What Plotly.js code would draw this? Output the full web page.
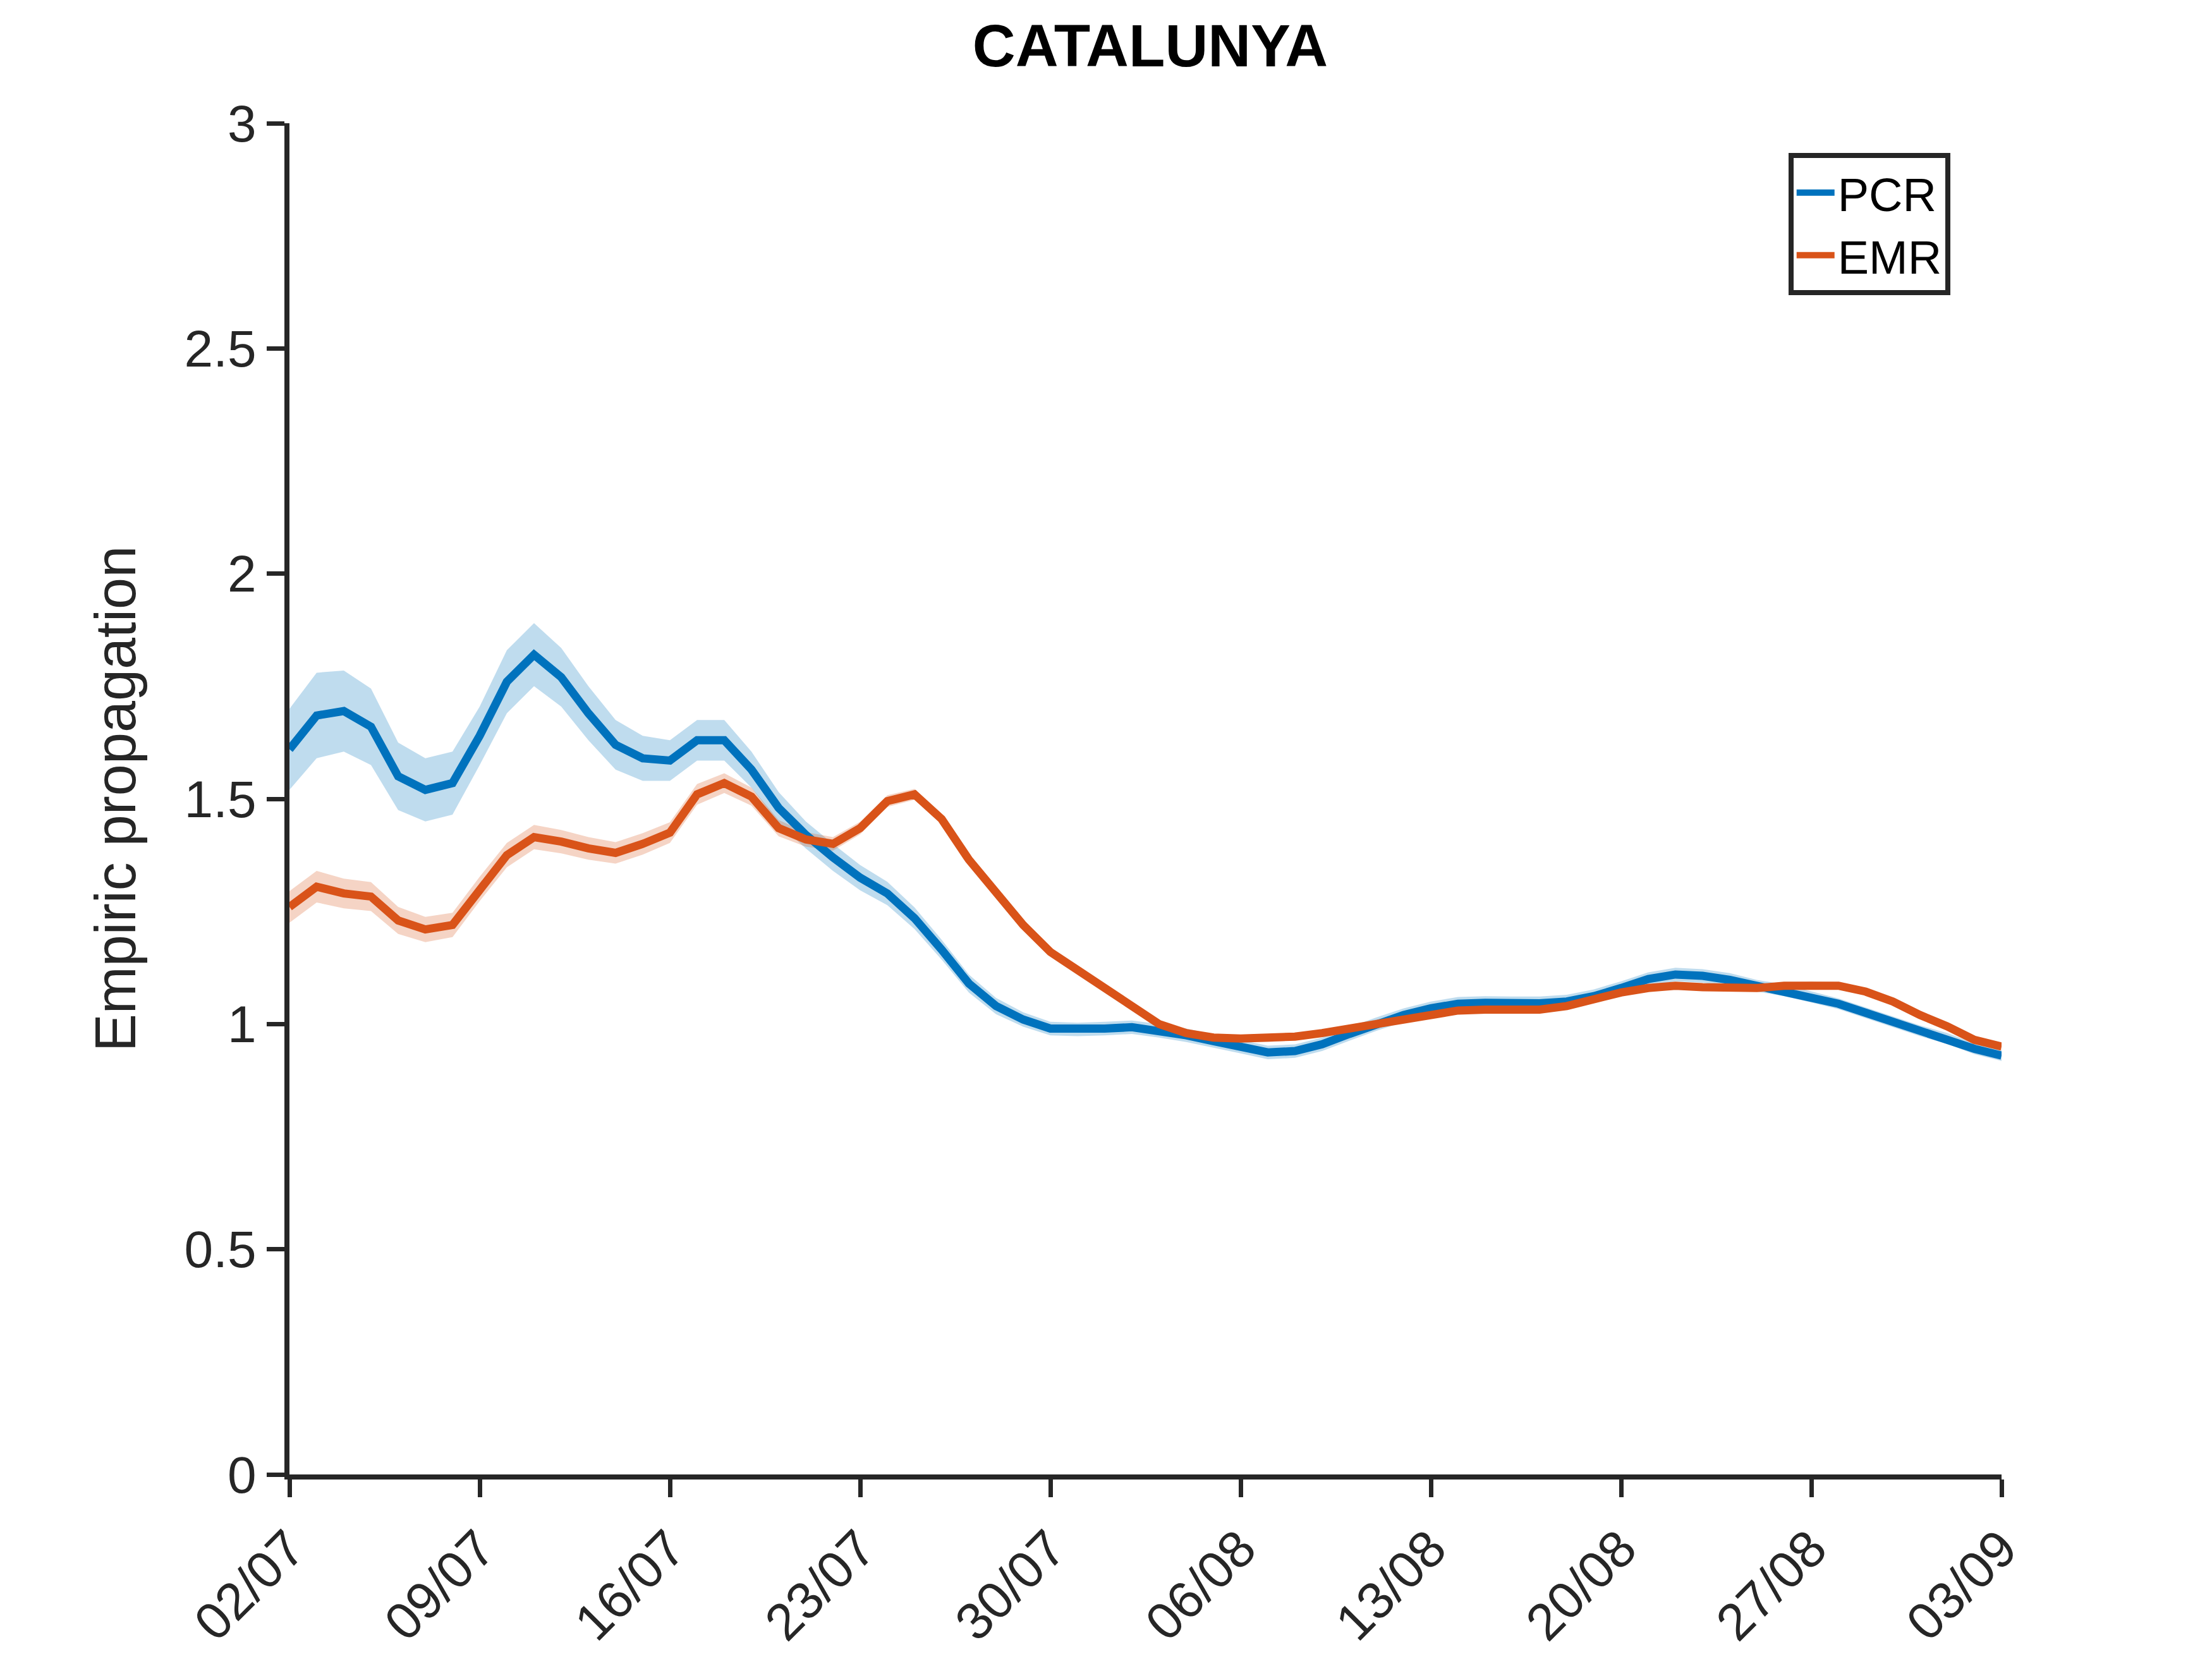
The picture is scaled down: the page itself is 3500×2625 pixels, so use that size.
<!DOCTYPE html>
<html>
<head>
<meta charset="utf-8">
<script src="https://cdn.plot.ly/plotly-3.0.1.min.js"></script>
<style>html,body{margin:0;padding:0;background:#fff}</style>
</head>
<body>
<div id="chart_area" style="width:3500px;height:2625px"></div>
<script>
var tickLabels = ['02/07','09/07','16/07','23/07','30/07','06/08','13/08','20/08','27/08','03/09'];
var pcr = [1.61,1.685,1.695,1.66,1.55,1.52,1.535,1.64,1.76,1.82,1.77,1.69,1.62,1.59,1.585,1.63,1.63,1.565,1.48,1.42,
  1.37,1.325,1.29,1.235,1.165,1.09,1.04,1.01,0.99,0.988,0.99,0.993,0.985,0.975,0.962,0.95,0.937,0.94,0.955,0.978,
  1.0,1.02,1.035,1.045,1.047,1.046,1.046,1.05,1.062,1.08,1.1,1.11,1.107,1.098,1.085,1.075,1.06,1.045,1.025,1.005,
  0.985,0.968,0.945,0.93];
var pcrErr = [0.09,0.095,0.09,0.085,0.075,0.07,0.07,0.065,0.07,0.07,0.065,0.06,0.055,0.05,0.045,0.045,0.045,0.04,0.035,0.03,
  0.03,0.028,0.026,0.024,0.022,0.02,0.018,0.016,0.015,0.015,0.015,0.015,0.015,0.015,0.015,0.015,0.015,0.015,0.015,0.015,
  0.015,0.015,0.015,0.015,0.015,0.015,0.015,0.015,0.015,0.015,0.015,0.015,0.015,0.015,0.013,0.013,0.012,0.012,0.012,0.012,
  0.012,0.012,0.012,0.012];
var emr = [1.26,1.305,1.29,1.283,1.23,1.21,1.22,1.3,1.375,1.415,1.405,1.39,1.38,1.4,1.425,1.51,1.535,1.505,1.435,1.41,
  1.4,1.435,1.495,1.51,1.455,1.365,1.29,1.22,1.16,1.12,1.08,1.04,1.0,0.98,0.97,0.968,0.968,0.972,0.98,0.99,
  1.002,1.012,1.022,1.03,1.032,1.032,1.032,1.04,1.055,1.07,1.08,1.085,1.082,1.08,1.08,1.085,1.087,1.085,1.072,1.05,
  1.02,0.995,0.965,0.95];
var emrErr = [0.035,0.035,0.033,0.032,0.03,0.028,0.027,0.027,0.027,0.027,0.026,0.025,0.024,0.024,0.023,0.023,0.022,0.02,0.018,0.016,
  0.015,0.014,0.013,0.012,0.011,0.01,0.009,0.008,0.008,0.008,0.008,0.008,0.008,0.008,0.008,0.008,0.008,0.008,0.008,0.008,
  0.008,0.008,0.008,0.008,0.008,0.008,0.008,0.008,0.008,0.008,0.008,0.008,0.008,0.008,0.008,0.008,0.008,0.008,0.008,0.008,
  0.008,0.008,0.008,0.008];

var days = pcr.map(function(v, i){ return i; });
var tickVals = tickLabels.map(function(t, i){ return i * 7; });

function band(y, e, color) {
  var lo = y.map(function(v, i){ return v - e[i]; });
  var hi = y.map(function(v, i){ return v + e[i]; });
  return {
    type: 'scatter', mode: 'lines', fill: 'toself', fillcolor: color,
    x: days.concat(days.slice().reverse()),
    y: hi.concat(lo.reverse()),
    line: { width: 0 }, showlegend: false, hoverinfo: 'skip'
  };
}

var data = [
  band(pcr, pcrErr, 'rgba(0,114,189,0.25)'),
  band(emr, emrErr, 'rgba(217,83,25,0.25)'),
  { type: 'scatter', mode: 'lines', name: 'PCR', x: days, y: pcr, line: { color: '#0072BD', width: 13 } },
  { type: 'scatter', mode: 'lines', name: 'EMR', x: days, y: emr, line: { color: '#D95319', width: 13 } }
];

var layout = {
  width: 3500, height: 2625,
  paper_bgcolor: '#fff', plot_bgcolor: '#fff',
  margin: { l: 458, r: 333, t: 195, b: 292 },
  font: { family: 'Liberation Sans, Arial, sans-serif', size: 82, color: '#262626' },
  title: { text: '<b>CATALUNYA</b>', x: 0.52, xanchor: 'center', y: 0.985, yanchor: 'top',
           font: { size: 94, color: '#000' } },
  xaxis: {
    range: [0, 63], tickvals: tickVals, ticktext: tickLabels, tickangle: -45,
    showgrid: false, zeroline: false, showline: true, linecolor: '#262626', linewidth: 8,
    ticks: 'outside', ticklen: 28, tickwidth: 7, tickcolor: '#262626'
  },
  yaxis: {
    range: [0, 3], tickvals: [0, 0.5, 1, 1.5, 2, 2.5, 3],
    showgrid: false, zeroline: false, showline: true, linecolor: '#262626', linewidth: 8,
    ticks: 'outside', ticklen: 28, tickwidth: 7, tickcolor: '#262626',
    title: { text: 'Empiric propagation', font: { size: 90 }, standoff: 50 }
  },
  showlegend: true,
  legend: {
    x: 0.97, y: 0.978, xanchor: 'right', yanchor: 'top',
    bgcolor: '#fff', bordercolor: '#262626', borderwidth: 8,
    font: { size: 74, color: '#000' }, itemwidth: 60
  }
};

Plotly.newPlot('chart_area', data, layout, { staticPlot: true });
</script>
</body>
</html>
